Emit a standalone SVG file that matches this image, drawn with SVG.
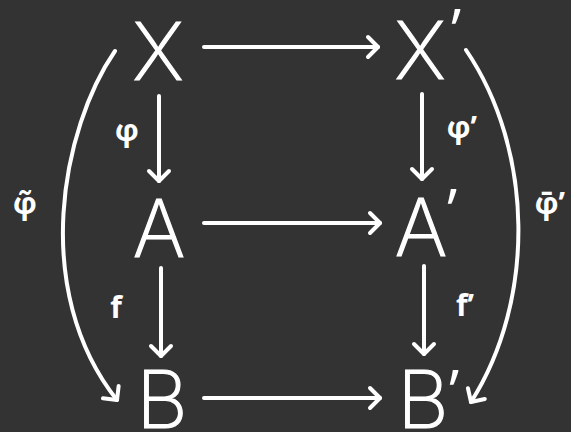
<svg xmlns="http://www.w3.org/2000/svg" width="571" height="432" viewBox="0 0 571 432">
<style>
.node{font-family:Inter,"Open Sans","Liberation Sans",sans-serif;font-weight:200;font-size:80px;fill:#fff;stroke:#fff;stroke-width:1.2;text-anchor:middle}
.pr{font-family:"Open Sans","Liberation Sans",sans-serif;font-weight:400;font-size:60px;fill:#fff;text-anchor:middle}
.lbl{font-family:"Open Sans","Liberation Sans",sans-serif;font-weight:700;font-size:30px;fill:#fff;text-anchor:middle}
.c{fill:none;stroke:#fff;stroke-width:4;stroke-linecap:round;stroke-linejoin:round}
</style>
<defs>
<marker id="ah" markerUnits="userSpaceOnUse" orient="auto" markerWidth="30" markerHeight="30" refX="15" refY="15" viewBox="0 0 30 30">
<path d="M5,5 L15,15 L5,25" fill="none" stroke="#fff" stroke-width="4" stroke-linecap="round" stroke-linejoin="round"/>
</marker>
</defs>
<rect width="571" height="432" fill="#333333"/>
<g id="connectors">
<line class="c" x1="204" y1="47" x2="378" y2="47" marker-end="url(#ah)"/>
<line class="c" x1="204" y1="223" x2="380" y2="223" marker-end="url(#ah)"/>
<line class="c" x1="204" y1="398" x2="380" y2="398" marker-end="url(#ah)"/>
<line class="c" x1="159" y1="96" x2="159" y2="181" marker-end="url(#ah)"/>
<line class="c" x1="161" y1="268" x2="161" y2="356" marker-end="url(#ah)"/>
<line class="c" x1="422" y1="94" x2="422" y2="179" marker-end="url(#ah)"/>
<line class="c" x1="424" y1="266" x2="424" y2="354" marker-end="url(#ah)"/>
<path class="c" d="M115,51 C62,128 30,290 117,400" marker-end="url(#ah)"/>
<path class="c" d="M466,50 C534,150 536,300 471,402" marker-end="url(#ah)"/>
</g>
<g id="X"><text class="node" x="158" y="80">X</text></g>
<g id="Xp"><text class="node" x="420" y="79">X</text><text class="pr" x="456" y="52">’</text></g>
<g id="A"><text class="node" x="159" y="257">A</text></g>
<g id="Ap"><text class="node" x="421" y="256">A</text><text class="pr" x="452" y="232">’</text></g>
<g id="B"><text class="node" x="162" y="428">B</text></g>
<g id="Bp"><text class="node" x="423" y="428">B</text><text class="pr" x="454" y="413">’</text></g>
<g id="labels">
<text class="lbl" x="127" y="141">φ</text>
<text class="lbl" x="462" y="138">φ’</text>
<text class="lbl" x="116" y="318">f</text>
<text class="lbl" x="465" y="316">f’</text>
<text class="lbl" x="25" y="214">φ̃</text>
<text class="lbl" x="550" y="214">φ̄’</text>
</g>
</svg>
